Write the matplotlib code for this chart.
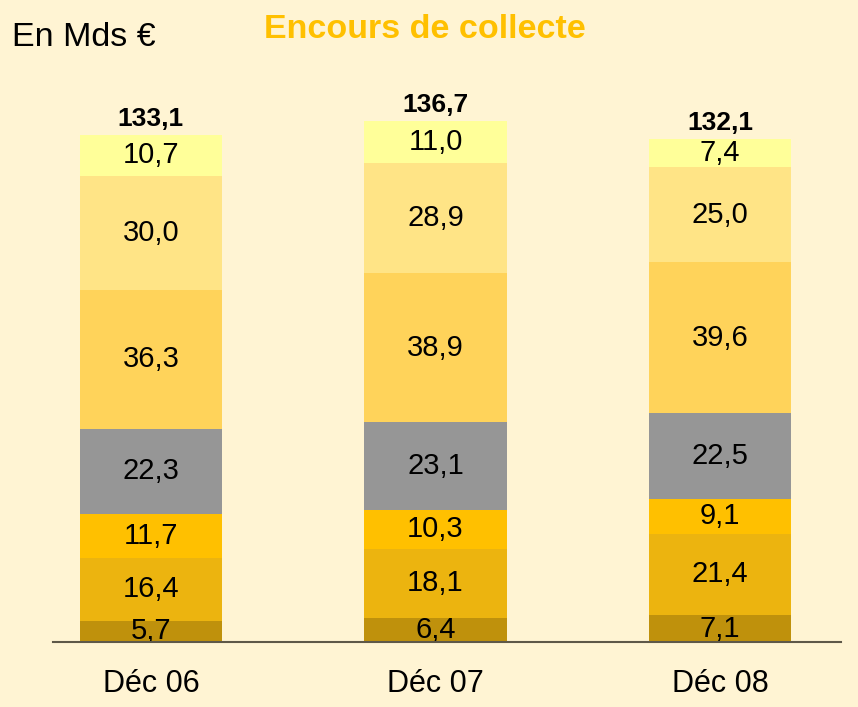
import numpy as np
from matplotlib import pyplot as plt

plt.rcParams['font.family'] = ['Liberation Sans', 'DejaVu Sans']

categories = ['Déc 06', 'Déc 07', 'Déc 08']
# stacked segments, bottom to top
seg1 = [5.7, 6.4, 7.1]
seg2 = [16.4, 18.1, 21.4]
seg3 = [11.7, 10.3, 9.1]
seg4 = [22.3, 23.1, 22.5]
seg5 = [36.3, 38.9, 39.6]
seg6 = [30.0, 28.9, 25.0]
seg7 = [10.7, 11.0, 7.4]
totals = [133.1, 136.7, 132.1]

colors = ['#BF910C', '#ECB40F', '#FFC000', '#969696', '#FFD35A', '#FFE486', '#FFFF99']
bg = '#FFF4D3'

fig = plt.figure(figsize=(8.58, 7.07), dpi=100, facecolor=bg)
ax = fig.add_axes([0.0618, 0.0915, 0.9184, 0.8236])
ax.set_facecolor(bg)

x = np.arange(len(categories))
segs = [seg1, seg2, seg3, seg4, seg5, seg6, seg7]
bottom = np.zeros(len(categories))
for vals, col in zip(segs, colors):
    vals = np.array(vals)
    ax.bar(x, vals, width=0.5, bottom=bottom, color=col, edgecolor='none', zorder=2)
    for xi, b, v in zip(x, bottom, vals):
        ax.text(xi, b + v/2, ('%.1f' % v).replace('.', ','), ha='center', va='center',
                fontsize=21, color='black', zorder=3)
    bottom = bottom + vals

for xi, t in zip(x, totals):  # bold totals above each bar
    ax.annotate(('%.1f' % t).replace('.', ','), (xi, t), xytext=(0, 3), textcoords='offset points',
                ha='center', va='bottom', fontsize=19, fontweight='bold', color='black')

ax.set_xlim(-0.344, 2.425)
ax.set_ylim(0, 152.8)
ax.set_xticks(x)
ax.set_xticklabels(categories, fontsize=22)
ax.tick_params(axis='x', length=0, pad=19)
ax.set_yticks([])
for s in ['top', 'left', 'right']:
    ax.spines[s].set_visible(False)
ax.spines['bottom'].set_color('#5E5848')
ax.spines['bottom'].set_linewidth(1.5)
ax.spines['bottom'].set_zorder(4)

fig.text(0.495, 0.958, 'Encours de collecte', ha='center', va='center',
         fontsize=24.5, fontweight='bold', color='#FFC000')
fig.text(0.014, 0.947, 'En Mds €', ha='left', va='center', fontsize=24.5, color='black')

fig.savefig('out.png', dpi=100, facecolor=bg)
